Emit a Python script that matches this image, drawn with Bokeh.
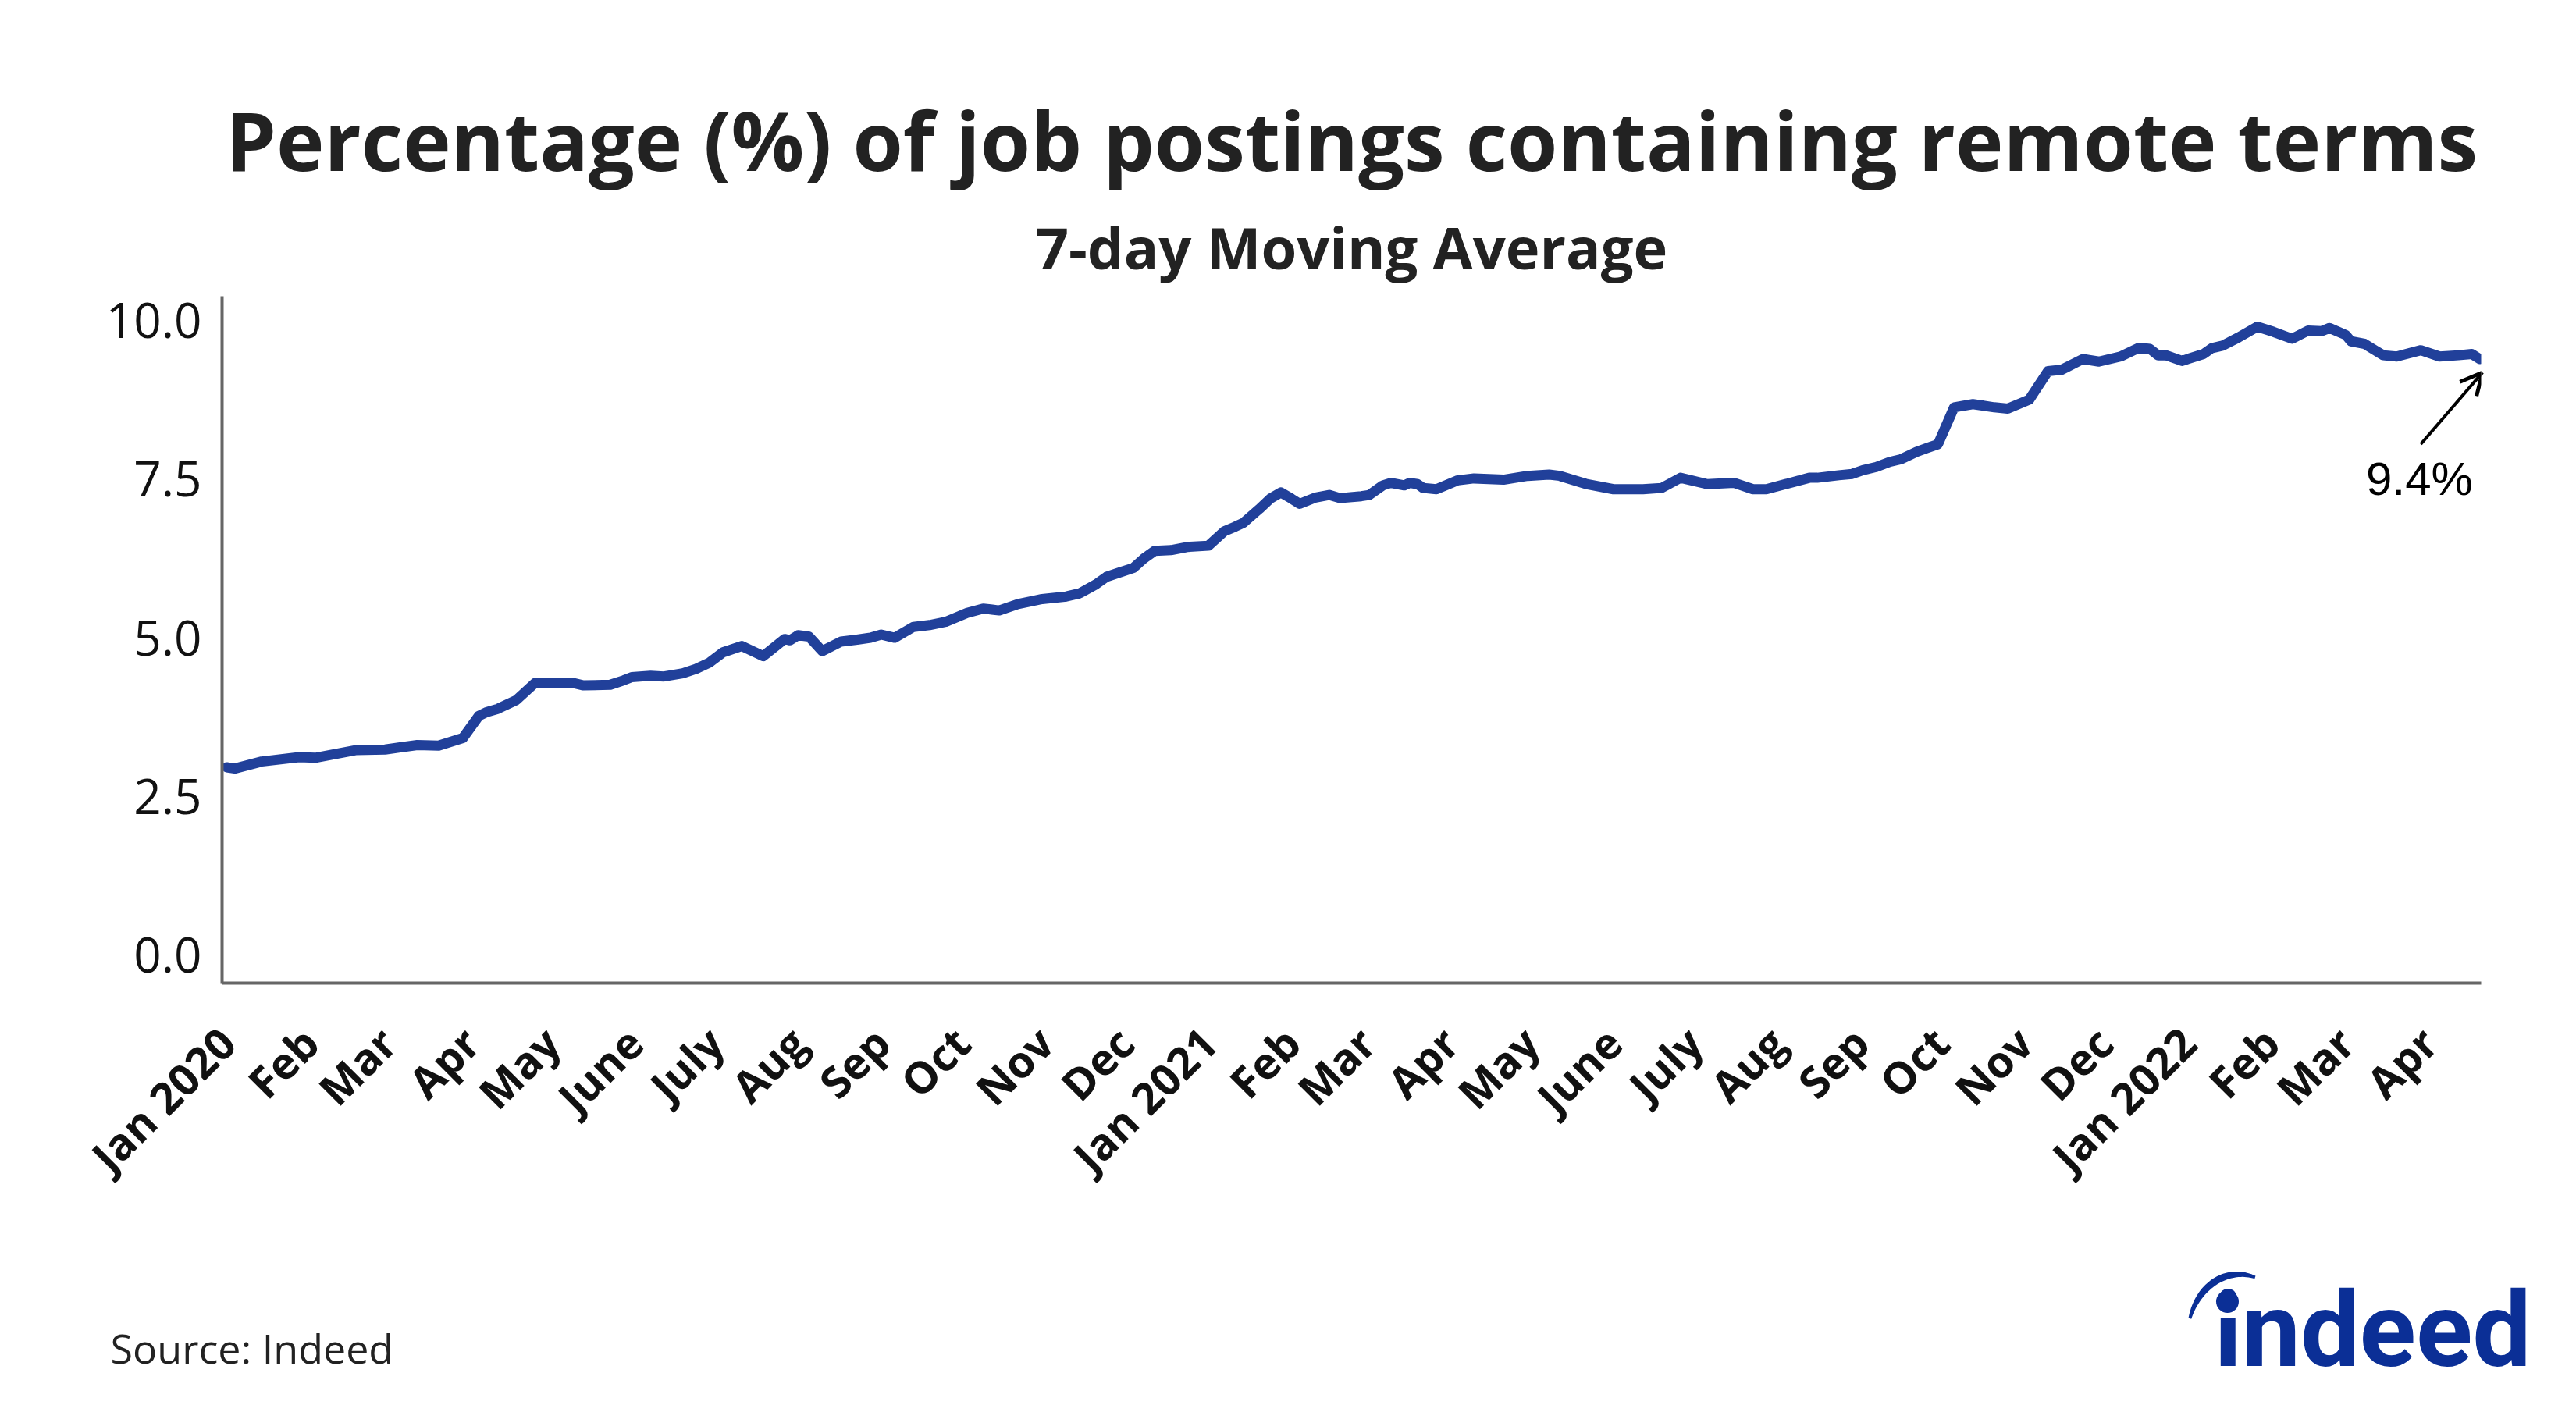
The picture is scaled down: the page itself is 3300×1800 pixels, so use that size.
import numpy as np
from bokeh.plotting import figure
from bokeh.layouts import column
from bokeh.models import (Label, Arrow, OpenHead, FixedTicker, NumeralTickFormatter,
                          Range1d, ColumnDataSource)
from bokeh.core.properties import value
from bokeh.embed import file_html
from bokeh.resources import INLINE

# ---------------- data ----------------
TITLE = "Percentage (%) of job postings containing remote terms"
SUBTITLE = "7-day Moving Average"
SOURCE = "Source: Indeed"
LOGO = "indeed"

dates = ["2020-01-01", "2020-01-04", "2020-01-14", "2020-01-28", "2020-02-03", "2020-02-18", "2020-02-29",
         "2020-03-12", "2020-03-20", "2020-03-29", "2020-04-04", "2020-04-07", "2020-04-11", "2020-04-18",
         "2020-04-25", "2020-05-03", "2020-05-09", "2020-05-13", "2020-05-23", "2020-05-28", "2020-05-31",
         "2020-06-07", "2020-06-12", "2020-06-19", "2020-06-24", "2020-06-29", "2020-07-04", "2020-07-11",
         "2020-07-19", "2020-07-27", "2020-07-29", "2020-08-01", "2020-08-05", "2020-08-10", "2020-08-17",
         "2020-08-23", "2020-08-28", "2020-09-01", "2020-09-06", "2020-09-13", "2020-09-19", "2020-09-25",
         "2020-10-03", "2020-10-09", "2020-10-15", "2020-10-22", "2020-10-31", "2020-11-09", "2020-11-14",
         "2020-11-20", "2020-11-24", "2020-11-29", "2020-12-04", "2020-12-08", "2020-12-12", "2020-12-18",
         "2020-12-24", "2021-01-01", "2021-01-07", "2021-01-11", "2021-01-14", "2021-01-20", "2021-01-24",
         "2021-01-28", "2021-02-01", "2021-02-04", "2021-02-10", "2021-02-15", "2021-02-19", "2021-02-27",
         "2021-03-02", "2021-03-07", "2021-03-10", "2021-03-15", "2021-03-17", "2021-03-20", "2021-03-22",
         "2021-03-27", "2021-04-04", "2021-04-10", "2021-04-21", "2021-04-30", "2021-05-08", "2021-05-12",
         "2021-05-22", "2021-06-01", "2021-06-12", "2021-06-19", "2021-06-26", "2021-07-06", "2021-07-16",
         "2021-07-23", "2021-07-28", "2021-08-05", "2021-08-13", "2021-08-16", "2021-08-24", "2021-08-29",
         "2021-09-02", "2021-09-07", "2021-09-12", "2021-09-16", "2021-09-22", "2021-09-26", "2021-09-30",
         "2021-10-06", "2021-10-13", "2021-10-21", "2021-10-26", "2021-11-03", "2021-11-10", "2021-11-15",
         "2021-11-23", "2021-11-29", "2021-12-07", "2021-12-14", "2021-12-18", "2021-12-21", "2021-12-24",
         "2021-12-30", "2022-01-01", "2022-01-07", "2022-01-10", "2022-01-14", "2022-01-20", "2022-01-27",
         "2022-02-02", "2022-02-09", "2022-02-15", "2022-02-20", "2022-02-23", "2022-03-01", "2022-03-03",
         "2022-03-08", "2022-03-15", "2022-03-20", "2022-03-29", "2022-04-05", "2022-04-12", "2022-04-17",
         "2022-04-20"]

remote_pct = [2.96, 2.94, 3.05, 3.12, 3.11, 3.23, 3.24, 3.31, 3.30, 3.42,
              3.77, 3.83, 3.88, 4.02, 4.29, 4.28, 4.29, 4.25, 4.26, 4.33,
              4.38, 4.40, 4.39, 4.44, 4.51, 4.61, 4.77, 4.87, 4.71, 4.98,
              4.96, 5.04, 5.02, 4.79, 4.94, 4.97, 5.00, 5.05, 5.00, 5.17,
              5.20, 5.25, 5.39, 5.46, 5.43, 5.53, 5.61, 5.65, 5.70, 5.84,
              5.96, 6.03, 6.10, 6.25, 6.37, 6.38, 6.43, 6.45, 6.68, 6.75,
              6.81, 7.03, 7.19, 7.29, 7.19, 7.11, 7.21, 7.25, 7.20, 7.23,
              7.25, 7.40, 7.44, 7.40, 7.44, 7.42, 7.36, 7.34, 7.48, 7.51,
              7.49, 7.55, 7.57, 7.55, 7.42, 7.34, 7.34, 7.36, 7.52, 7.42,
              7.44, 7.34, 7.34, 7.43, 7.52, 7.52, 7.56, 7.58, 7.64, 7.69,
              7.77, 7.81, 7.93, 7.99, 8.05, 8.63, 8.68, 8.63, 8.61, 8.75,
              9.20, 9.22, 9.39, 9.35, 9.43, 9.57, 9.55, 9.45, 9.45, 9.36,
              9.39, 9.47, 9.56, 9.60, 9.73, 9.90, 9.82, 9.71, 9.84, 9.83,
              9.88, 9.77, 9.67, 9.63, 9.45, 9.43, 9.53, 9.43, 9.45, 9.47,
              9.39]

tick_dates = ["2020-01-01", "2020-02-01", "2020-03-01", "2020-04-01", "2020-05-01", "2020-06-01",
              "2020-07-01", "2020-08-01", "2020-09-01", "2020-10-01", "2020-11-01", "2020-12-01",
              "2021-01-01", "2021-02-01", "2021-03-01", "2021-04-01", "2021-05-01", "2021-06-01",
              "2021-07-01", "2021-08-01", "2021-09-01", "2021-10-01", "2021-11-01", "2021-12-01",
              "2022-01-01", "2022-02-01", "2022-03-01", "2022-04-01"]
tick_labels = ["Jan 2020", "Feb", "Mar", "Apr", "May", "June", "July", "Aug", "Sep", "Oct", "Nov", "Dec",
               "Jan 2021", "Feb", "Mar", "Apr", "May", "June", "July", "Aug", "Sep", "Oct", "Nov", "Dec",
               "Jan 2022", "Feb", "Mar", "Apr"]
y_ticks = [0, 2.5, 5, 7.5, 10]

assert len(dates) == len(remote_pct)

# ---------------- layout / style ----------------
DAY = 86400000.0


def to_ms(s):
    return float(np.datetime64(s, "ms").astype(np.int64))


x_ms = [to_ms(d) for d in dates]
tick_ms = [to_ms(d) for d in tick_dates]

PAGE_W = 3300
HEAD_H, MAIN_H, FOOT_H = 368, 1232, 200
FRAME_L, FRAME_R = 284, 3178                 # page px
FRAME_T, FRAME_B = 379, 1259                 # page px

X_START = x_ms[0] - 1.75 * DAY
X_END = x_ms[-1] + 0.5 * DAY
Y_START, Y_END = -0.44, 10.38

LINE_COLOR = "#21409a"
TEXT_COLOR = "#222222"
LOGO_COLOR = "#0b2f96"
FONT = "Open Sans"


def blank_fig(h):
    f = figure(width=PAGE_W, height=h, x_range=Range1d(0, PAGE_W), y_range=Range1d(h, 0),
               x_axis_type=None, y_axis_type=None, output_backend="svg", toolbar_location=None,
               title=None, min_border=0, outline_line_color=None, frame_align=False)
    f.min_border_left = 0
    f.min_border_right = 0
    f.min_border_top = 0
    f.min_border_bottom = 0
    f.background_fill_color = "white"
    f.border_fill_color = "white"
    return f


# ---- header: title + subtitle (y = text anchor, page px)
head = blank_fig(HEAD_H)
head.text(x=[1731], y=[178], text=[TITLE], text_align="center", text_baseline="alphabetic",
          text_font=value(FONT), text_font_size="104px", text_font_style="bold", text_color=TEXT_COLOR)
head.text(x=[1731], y=[316], text=[SUBTITLE], text_align="center", text_baseline="alphabetic",
          text_font=value(FONT), text_font_size="74px", text_font_style="bold", text_color=TEXT_COLOR)

# ---- main chart
p = figure(width=PAGE_W, height=MAIN_H, x_axis_type="datetime",
           x_range=Range1d(X_START, X_END), y_range=Range1d(Y_START, Y_END),
           output_backend="svg", toolbar_location=None, title=None, frame_align=False,
           min_border_left=FRAME_L, min_border_right=PAGE_W - FRAME_R,
           min_border_top=FRAME_T - HEAD_H, min_border_bottom=HEAD_H + MAIN_H - FRAME_B)
p.outline_line_color = None
p.xgrid.visible = False
p.ygrid.visible = False
p.background_fill_color = "white"
p.border_fill_color = "white"

src = ColumnDataSource(dict(x=x_ms, y=remote_pct))
p.line("x", "y", source=src, line_color=LINE_COLOR, line_width=13,
       line_join="round", line_cap="round")

for ax in (p.xaxis[0], p.yaxis[0]):
    ax.axis_line_color = "#666666"
    ax.axis_line_width = 4
    ax.major_tick_line_color = None
    ax.minor_tick_line_color = None
    ax.major_label_text_color = "#111111"
    ax.major_label_text_font = FONT

p.xaxis.ticker = FixedTicker(ticks=tick_ms)
p.xaxis.major_label_overrides = {int(t): lab for t, lab in zip(tick_ms, tick_labels)}
p.xaxis.major_label_orientation = np.pi / 4
p.xaxis.major_label_text_font_size = "56px"
p.xaxis.major_label_text_font_style = "bold"
p.xaxis.major_label_standoff = 60

p.yaxis.ticker = FixedTicker(ticks=y_ticks)
p.yaxis.formatter = NumeralTickFormatter(format="0.0")
p.yaxis.major_label_text_font_size = "62px"
p.yaxis.major_label_standoff = 20

# last value annotation
last_x, last_y = x_ms[-1], remote_pct[-1]
p.add_layout(Arrow(end=OpenHead(size=28, line_width=5, line_color="black"),
                   x_start=last_x - 22 * DAY, y_start=last_y - 1.34,
                   x_end=last_x + 1 * DAY, y_end=last_y - 0.21,
                   line_width=4, line_color="black"))
p.add_layout(Label(x=last_x - 22.5 * DAY, y=last_y - 1.89, text=f"{last_y:.1f}%",
                   text_align="center", text_baseline="alphabetic",
                   text_font="Liberation Sans", text_font_size="60px", text_color="black"))

# ---- footer: source + logo
foot = blank_fig(FOOT_H)
FOOT_Y0 = HEAD_H + MAIN_H
foot.text(x=[141], y=[1726 - FOOT_Y0], text=[SOURCE], text_align="left", text_baseline="alphabetic",
          text_font=value(FONT), text_font_size="52px", text_color=TEXT_COLOR)
foot.text(x=[2836], y=[1704 - FOOT_Y0], text=[LOGO], text_align="left", text_baseline="alphabetic",
          text_font=value("Roboto"), text_font_size="134px", text_font_style="bold",
          text_color=LOGO_COLOR)
# gap between the stem and the dot of the "i"
foot.quad(left=[2838], right=[2871], top=[1660 - FOOT_Y0], bottom=[1688 - FOOT_Y0],
          fill_color="white", line_color=None)
# swoosh over the "i"
cx, cy, rx, ry = 2868.0, 1712.0 - FOOT_Y0, 66.0, 80.0
th = np.linspace(np.radians(163), np.radians(72), 40)
s = np.linspace(0, 1, 40)
thick = 1.5 + 7.5 * np.sin(np.pi * (0.1 + 0.8 * s))
ox = cx + (rx + thick / 2) * np.cos(th)
oy = cy - (ry + thick / 2) * np.sin(th)
ix = cx + (rx - thick / 2) * np.cos(th)
iy = cy - (ry - thick / 2) * np.sin(th)
foot.patch(np.concatenate([ox, ix[::-1]]), np.concatenate([oy, iy[::-1]]),
           fill_color=LOGO_COLOR, line_color=None)
# larger dot of the "i"
foot.ellipse(x=[2853], y=[1667 - FOOT_Y0], width=29, height=29, fill_color=LOGO_COLOR, line_color=None)

layout = column(head, p, foot, spacing=0)
open("out.html", "w").write(file_html(layout, INLINE))
